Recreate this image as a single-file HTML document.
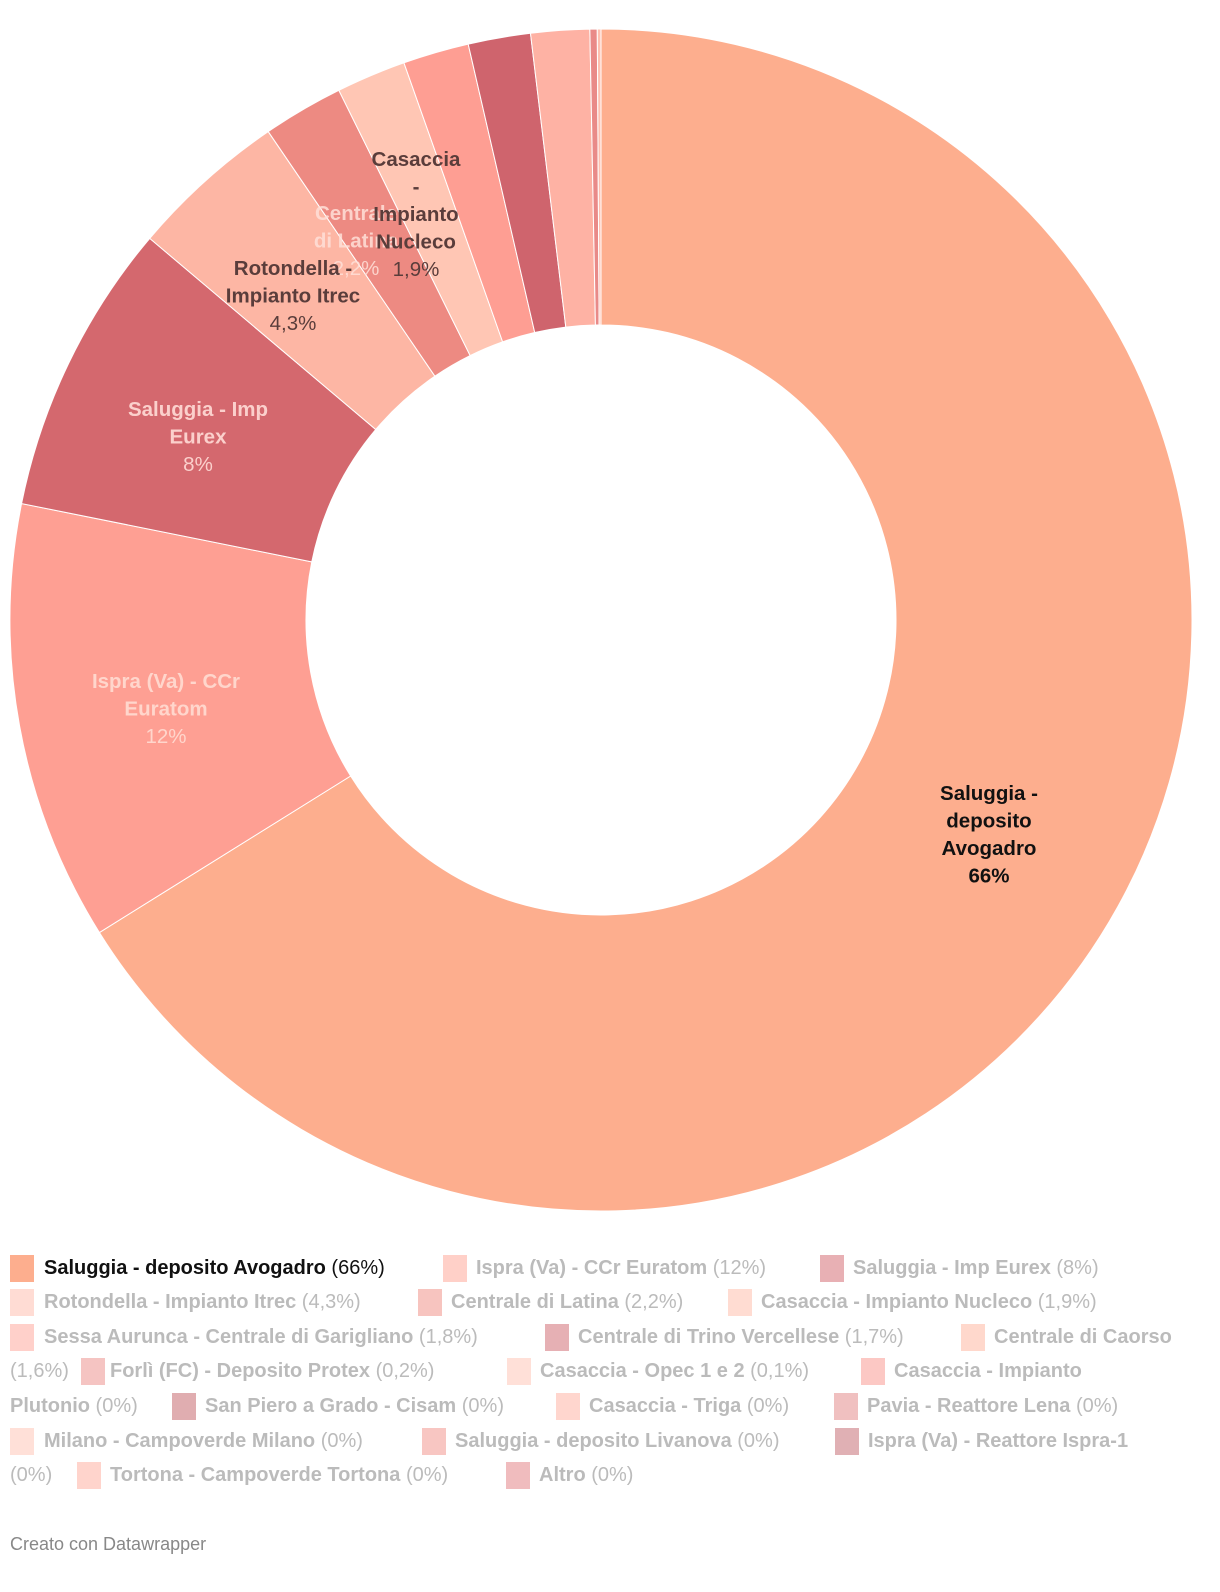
<!DOCTYPE html>
<html><head><meta charset="utf-8">
<style>
body{margin:0;width:1220px;height:1592px;background:#fff;font-family:"Liberation Sans",sans-serif;position:relative;overflow:hidden}
#chart{position:absolute;left:0;top:0}
.li{position:absolute;font-size:20px;color:#bbb;white-space:nowrap;font-weight:bold;letter-spacing:0px}
.li span{font-weight:normal}
.sw{position:absolute;width:24px;height:27px}
#footer{position:absolute;left:10px;top:1534px;font-size:18px;color:#888}
</style></head><body>
<svg id="chart" width="1220" height="1230"></svg>
<div id="legend"></div>
<div id="footer">Creato con Datawrapper</div>
<script>
const categories=["Saluggia - deposito Avogadro","Ispra (Va) - CCr Euratom","Saluggia - Imp Eurex","Rotondella - Impianto Itrec","Centrale di Latina","Casaccia - Impianto Nucleco","Sessa Aurunca - Centrale di Garigliano","Centrale di Trino Vercellese","Centrale di Caorso","Forlì (FC) - Deposito Protex","Casaccia - Opec 1 e 2","Casaccia - Impianto Plutonio","San Piero a Grado - Cisam","Casaccia - Triga","Pavia - Reattore Lena","Milano - Campoverde Milano","Saluggia - deposito Livanova","Ispra (Va) - Reattore Ispra-1","Tortona - Campoverde Tortona","Altro"];
const values=[66,12,8,4.3,2.2,1.9,1.8,1.7,1.6,0.2,0.1,0,0,0,0,0,0,0,0,0];
const valueLabels=["66%","12%","8%","4,3%","2,2%","1,9%","1,8%","1,7%","1,6%","0,2%","0,1%","0%","0%","0%","0%","0%","0%","0%","0%","0%"];
const colors=["#fdae8e","#fe9f93","#d4686e","#fdb6a4","#ed8a82","#ffc6b4","#fe9e93","#cf646d","#feb2a4","#e98a88","#ffc0b0","#fdb0a6","#d97a80","#ffc4b6","#e89a98","#ffd0c4","#f6a5a0","#d88a90","#ffc2b8","#e6a0a2"];
const legendColors=["#fdae8e","#ffd0c8","#e8b0b4","#ffdcd4","#f7c4bf","#ffdcd2","#ffd0ca","#e6b0b4","#ffd8cc","#f5c4c2","#ffe0d8","#fcc8c4","#e0adb0","#ffd6ce","#f0c0c0","#ffe0d8","#f8c6c2","#e0b0b4","#ffd4cc","#f0bcbe"];
const cx=601,cy=620,R=591,r=295;
const total=values.reduce((a,b)=>a+b,0);
const svg=document.getElementById('chart');
const NS='http://www.w3.org/2000/svg';
function pt(a,rad){return [cx+rad*Math.sin(a),cy-rad*Math.cos(a)];}
let acc=0;
values.forEach((v,i)=>{
  if(v<=0)return;
  const a0=acc/total*2*Math.PI;acc+=v;const a1=acc/total*2*Math.PI;
  const large=(a1-a0)>Math.PI?1:0;
  const p0=pt(a0,R),p1=pt(a1,R),q1=pt(a1,r),q0=pt(a0,r);
  const p=document.createElementNS(NS,'path');
  p.setAttribute('d',`M${p0[0]},${p0[1]}A${R},${R} 0 ${large} 1 ${p1[0]},${p1[1]}L${q1[0]},${q1[1]}A${r},${r} 0 ${large} 0 ${q0[0]},${q0[1]}Z`);
  p.setAttribute('fill',colors[i]);p.setAttribute('stroke','#fff');p.setAttribute('stroke-width','1');
  
  
  svg.appendChild(p);
});
const labels=[
 {x:989,y:800,lines:["Saluggia -","deposito","Avogadro"],pct:"66%",c:"#111",pc:"#111",pb:true},
 {x:166,y:688,lines:["Ispra (Va) - CCr","Euratom"],pct:"12%",c:"#ffd6cc",pc:"#ffd6cc"},
 {x:198,y:416,lines:["Saluggia - Imp","Eurex"],pct:"8%",c:"#fbd0cc",pc:"#fbd0cc"},
 {x:356,y:220,lines:["Centrale","di Latina"],pct:"2,2%",c:"#ffe0d8",pc:"#ffe0d8",op:0.85},
 {x:293,y:275,lines:["Rotondella -","Impianto Itrec"],pct:"4,3%",c:"#5a3d3b",pc:"#5a3d3b"},
 {x:416,y:166,lines:["Casaccia","-","Impianto","Nucleco"],pct:"1,9%",c:"#5a3d3b",pc:"#5a3d3b"}
];
labels.forEach((L,k)=>{
  const t=document.createElementNS(NS,'text');
  t.setAttribute('text-anchor','middle');t.setAttribute('font-size','20.5');
  t.setAttribute('font-family','"Liberation Sans",sans-serif');
  if(L.op)t.setAttribute('opacity',L.op);
  
  
  L.lines.concat([L.pct]).forEach((s,j)=>{
    const ts=document.createElementNS(NS,'tspan');
    ts.setAttribute('x',L.x);ts.setAttribute('y',L.y+j*27.5);
    const isPct=j===L.lines.length;
    ts.setAttribute('font-weight',(!isPct||L.pb)?'bold':'normal');
    ts.setAttribute('fill',isPct?L.pc:L.c);
    ts.textContent=s;t.appendChild(ts);
  });
  svg.appendChild(t);
});
const rowsY=[1255,1289,1324,1358,1393,1428,1462];
const items=[
 [0,0,10,44],[1,0,443,476],[2,0,820,853],
 [3,1,10,44],[4,1,418,451],[5,1,728,761],
 [6,2,10,44],[7,2,545,578],[8,2,961,994],
 [9,3,81,110],[10,3,507,540],[11,3,861,894],
 [12,4,172,205],[13,4,556,589],[14,4,834,867],
 [15,5,10,44],[16,5,422,455],[17,5,835,868],
 [18,6,77,110],[19,6,506,539]];
const leg=document.getElementById('legend');
function addText(x,y,html,color,name){
  const d=document.createElement('div');d.className='li';
  d.style.left=x+'px';d.style.top=(y+2)+'px';if(color)d.style.color=color;
  d.innerHTML=html;
  
  
  leg.appendChild(d);
}
items.forEach(([i,row,sx,tx])=>{
  const y=rowsY[row];
  const s=document.createElement('div');s.className='sw';
  s.style.left=sx+'px';s.style.top=y+'px';s.style.background=legendColors[i];
  
  
  leg.appendChild(s);
  const col=i===0?'#111':null;
  let label=categories[i],val=' <span>('+valueLabels[i]+')</span>';
  if(i===8){addText(tx,y,label,col,'legend-entry');addText(10,rowsY[3],'<span>('+valueLabels[i]+')</span>',null,'legend-entry-cont');}
  else if(i===11){addText(tx,y,'Casaccia - Impianto',col,'legend-entry');addText(10,rowsY[4],'Plutonio'+val,null,'legend-entry-cont');}
  else if(i===17){addText(tx,y,label,col,'legend-entry');addText(10,rowsY[6],'<span>('+valueLabels[i]+')</span>',null,'legend-entry-cont');}
  else addText(tx,y,label+val,col,'legend-entry');
});
</script>
</body></html>
